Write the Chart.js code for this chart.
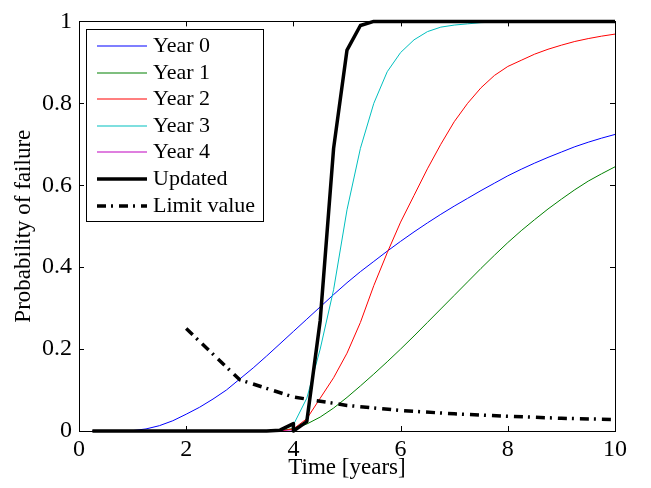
<!DOCTYPE html>
<html>
<head>
<meta charset="utf-8">
<script src="https://cdn.jsdelivr.net/npm/chart.js@4"></script>
<style>
  html, body { margin: 0; padding: 0; background: #fff; }
</style>
</head>
<body>
<canvas id="chart" width="651" height="488"></canvas>
<script>
// sample times (years) shared by the Year curves
const time = [0.25, 0.5, 0.75, 1, 1.25, 1.5, 1.75, 2, 2.25, 2.5, 2.75, 3, 3.25, 3.5, 3.75, 4,
    4.25, 4.5, 4.75, 5, 5.25, 5.5, 5.75, 6, 6.25, 6.5, 6.75, 7, 7.25, 7.5, 7.75, 8,
    8.25, 8.5, 8.75, 9, 9.25, 9.5, 9.75, 10];

const year0 = [0, 0, 0, 0.001, 0.005, 0.013, 0.025, 0.041, 0.058, 0.078, 0.1, 0.127, 0.154, 0.183, 0.213, 0.243,
    0.273, 0.303, 0.333, 0.362, 0.389, 0.414, 0.439, 0.463, 0.486, 0.508, 0.529, 0.549, 0.568, 0.587, 0.605, 0.623,
    0.639, 0.654, 0.668, 0.681, 0.694, 0.705, 0.715, 0.724];
const year1 = [0, 0, 0, 0, 0, 0, 0, 0, 0, 0, 0, 0, 0, 0, 0.001, 0.006,
    0.017, 0.034, 0.056, 0.082, 0.11, 0.139, 0.169, 0.2, 0.232, 0.265, 0.298, 0.331, 0.364, 0.397, 0.429, 0.46,
    0.489, 0.516, 0.542, 0.566, 0.589, 0.61, 0.628, 0.645];
const year2 = [0, 0, 0, 0, 0, 0, 0, 0, 0, 0, 0, 0, 0, 0, 0, 0.005,
    0.03, 0.08, 0.13, 0.19, 0.265, 0.355, 0.435, 0.51, 0.575, 0.64, 0.7, 0.755, 0.8, 0.838, 0.868, 0.89,
    0.905, 0.92, 0.932, 0.942, 0.951, 0.958, 0.964, 0.969];
const year3 = [0, 0, 0, 0, 0, 0, 0, 0, 0, 0, 0, 0, 0, 0, 0, 0.015,
    0.08, 0.2, 0.345, 0.54, 0.69, 0.8, 0.877, 0.924, 0.955, 0.975, 0.986, 0.991, 0.994, 0.997, 0.998, 0.999,
    1, 1, 1, 1, 1, 1, 1, 1];
const year4 = [0, 0, 0, 0, 0, 0, 0, 0, 0, 0, 0, 0, 0, 0, 0, 0,
    0.023, 0.27, 0.69, 0.93, 0.99, 1, 1, 1, 1, 1, 1, 1, 1, 1, 1, 1,
    1, 1, 1, 1, 1, 1, 1, 1];

// updated curve drops back at the year-4 inspection, so t = 4 appears twice
const updatedTime = [0.25, 0.5, 0.75, 1, 1.25, 1.5, 1.75, 2, 2.25, 2.5, 2.75, 3, 3.25, 3.5, 3.75, 4, 4,
    4.25, 4.5, 4.75, 5, 5.25, 5.5, 5.75, 6, 6.25, 6.5, 6.75, 7, 7.25, 7.5, 7.75, 8,
    8.25, 8.5, 8.75, 9, 9.25, 9.5, 9.75, 10];
const updated = [0, 0, 0, 0, 0, 0, 0, 0, 0, 0, 0, 0, 0, 0, 0.002, 0.018, 0,
    0.023, 0.27, 0.69, 0.93, 0.99, 1, 1, 1, 1, 1, 1, 1, 1, 1, 1, 1,
    1, 1, 1, 1, 1, 1, 1, 1];

const limitTime = [2, 3, 4, 5, 6, 7, 8, 9, 10];
const limitValue = [0.25, 0.125, 0.083, 0.0625, 0.05, 0.042, 0.036, 0.031, 0.028];

const xTicks = [0, 2, 4, 6, 8, 10];
const yTicks = [0, 0.2, 0.4, 0.6, 0.8, 1];

const FONT = '"Liberation Serif", "Times New Roman", serif';
Chart.defaults.font.family = FONT;
Chart.defaults.font.size = 23;
Chart.defaults.color = '#000';

const pts = (xs, ys) => xs.map((x, i) => ({ x, y: ys[i] }));

const series = [
    { label: 'Year 0', xs: time, ys: year0, color: '#0000ff', width: 1 },
    { label: 'Year 1', xs: time, ys: year1, color: '#008000', width: 1 },
    { label: 'Year 2', xs: time, ys: year2, color: '#ff0000', width: 1 },
    { label: 'Year 3', xs: time, ys: year3, color: '#00bfbf', width: 1 },
    { label: 'Year 4', xs: time, ys: year4, color: '#bf00bf', width: 1 },
    { label: 'Updated', xs: updatedTime, ys: updated, color: '#000000', width: 3.5 },
    { label: 'Limit value', xs: limitTime, ys: limitValue, color: '#000000', width: 3.5, dash: [9, 5, 2, 6] },
];

// matlab-style box with ticks pointing inwards
const frame = {
    id: 'frame',
    afterDatasetsDraw(chart) {
        const { ctx, chartArea: a, scales: { x, y } } = chart;
        ctx.save();
        ctx.strokeStyle = '#000';
        ctx.lineWidth = 1;
        ctx.strokeRect(Math.round(a.left) + 0.5, Math.round(a.top) + 0.5,
            Math.round(a.right - a.left), Math.round(a.bottom - a.top));
        ctx.beginPath();
        xTicks.forEach((v) => {
            const px = Math.round(x.getPixelForValue(v)) + 0.5;
            ctx.moveTo(px, a.bottom); ctx.lineTo(px, a.bottom - 5);
            ctx.moveTo(px, a.top); ctx.lineTo(px, a.top + 5);
        });
        yTicks.forEach((v) => {
            const py = Math.round(y.getPixelForValue(v)) + 0.5;
            ctx.moveTo(a.left, py); ctx.lineTo(a.left + 5, py);
            ctx.moveTo(a.right, py); ctx.lineTo(a.right - 5, py);
        });
        ctx.stroke();
        ctx.restore();
    },
};

const legendBox = {
    id: 'legendBox',
    afterDraw(chart) {
        const { ctx, chartArea: a } = chart;
        const sets = chart.data.datasets;
        ctx.save();
        ctx.font = '22px ' + FONT;
        const left = Math.round(a.left) + 7, top = Math.round(a.top) + 8, rowH = 26.6;
        let textW = 0;
        sets.forEach((d) => { textW = Math.max(textW, ctx.measureText(d.label).width); });
        const w = Math.round(67 + textW + 8), h = 192;
        ctx.fillStyle = '#fff';
        ctx.fillRect(left, top, w, h);
        ctx.strokeStyle = '#000';
        ctx.lineWidth = 1;
        ctx.strokeRect(left + 0.5, top + 0.5, w, h);
        sets.forEach((d, i) => {
            const cy = Math.round(top + 17 + i * rowH);
            ctx.beginPath();
            ctx.setLineDash(d.borderDash || []);
            ctx.lineWidth = Math.max(d.borderWidth, 1.2);
            ctx.strokeStyle = d.borderColor;
            ctx.moveTo(left + 11, cy);
            ctx.lineTo(left + 61, cy);
            ctx.stroke();
            ctx.setLineDash([]);
            ctx.fillStyle = '#000';
            ctx.textBaseline = 'middle';
            ctx.fillText(d.label, left + 67, cy);
        });
        ctx.restore();
    },
};

new Chart(document.getElementById('chart').getContext('2d'), {
    type: 'line',
    data: {
        datasets: series.map((s, i) => ({
            label: s.label,
            data: pts(s.xs, s.ys),
            borderColor: s.color,
            backgroundColor: s.color,
            borderWidth: s.width,
            borderDash: s.dash || [],
            borderJoinStyle: 'round',
            pointRadius: 0,
            fill: false,
            clip: false,
            order: series.length - i,
        })),
    },
    options: {
        responsive: false,
        animation: false,
        layout: { padding: { left: 0, right: 36, top: 8, bottom: 0 } },
        plugins: { legend: { display: false }, tooltip: { enabled: false } },
        scales: {
            x: {
                type: 'linear',
                min: 0,
                max: 10,
                grid: { display: false, drawTicks: false },
                border: { display: false },
                ticks: { stepSize: 2, padding: 4, maxRotation: 0, autoSkip: false, font: { size: 24 } },
                title: { display: true, text: 'Time [years]', padding: { top: 0, bottom: 6 } },
                afterFit: (s) => { s.height = 57; },
            },
            y: {
                min: 0,
                max: 1,
                grid: { display: false, drawTicks: false },
                border: { display: false },
                ticks: {
                    stepSize: 0.2,
                    padding: 7,
                    font: { size: 24 },
                    callback: (v) => String(Number(v.toFixed(1))),
                },
                title: { display: true, text: 'Probability of failure', padding: { top: 10, bottom: 0 } },
                afterFit: (s) => { s.width = 79; },
            },
        },
    },
    plugins: [frame, legendBox],
});
</script>
</body>
</html>
